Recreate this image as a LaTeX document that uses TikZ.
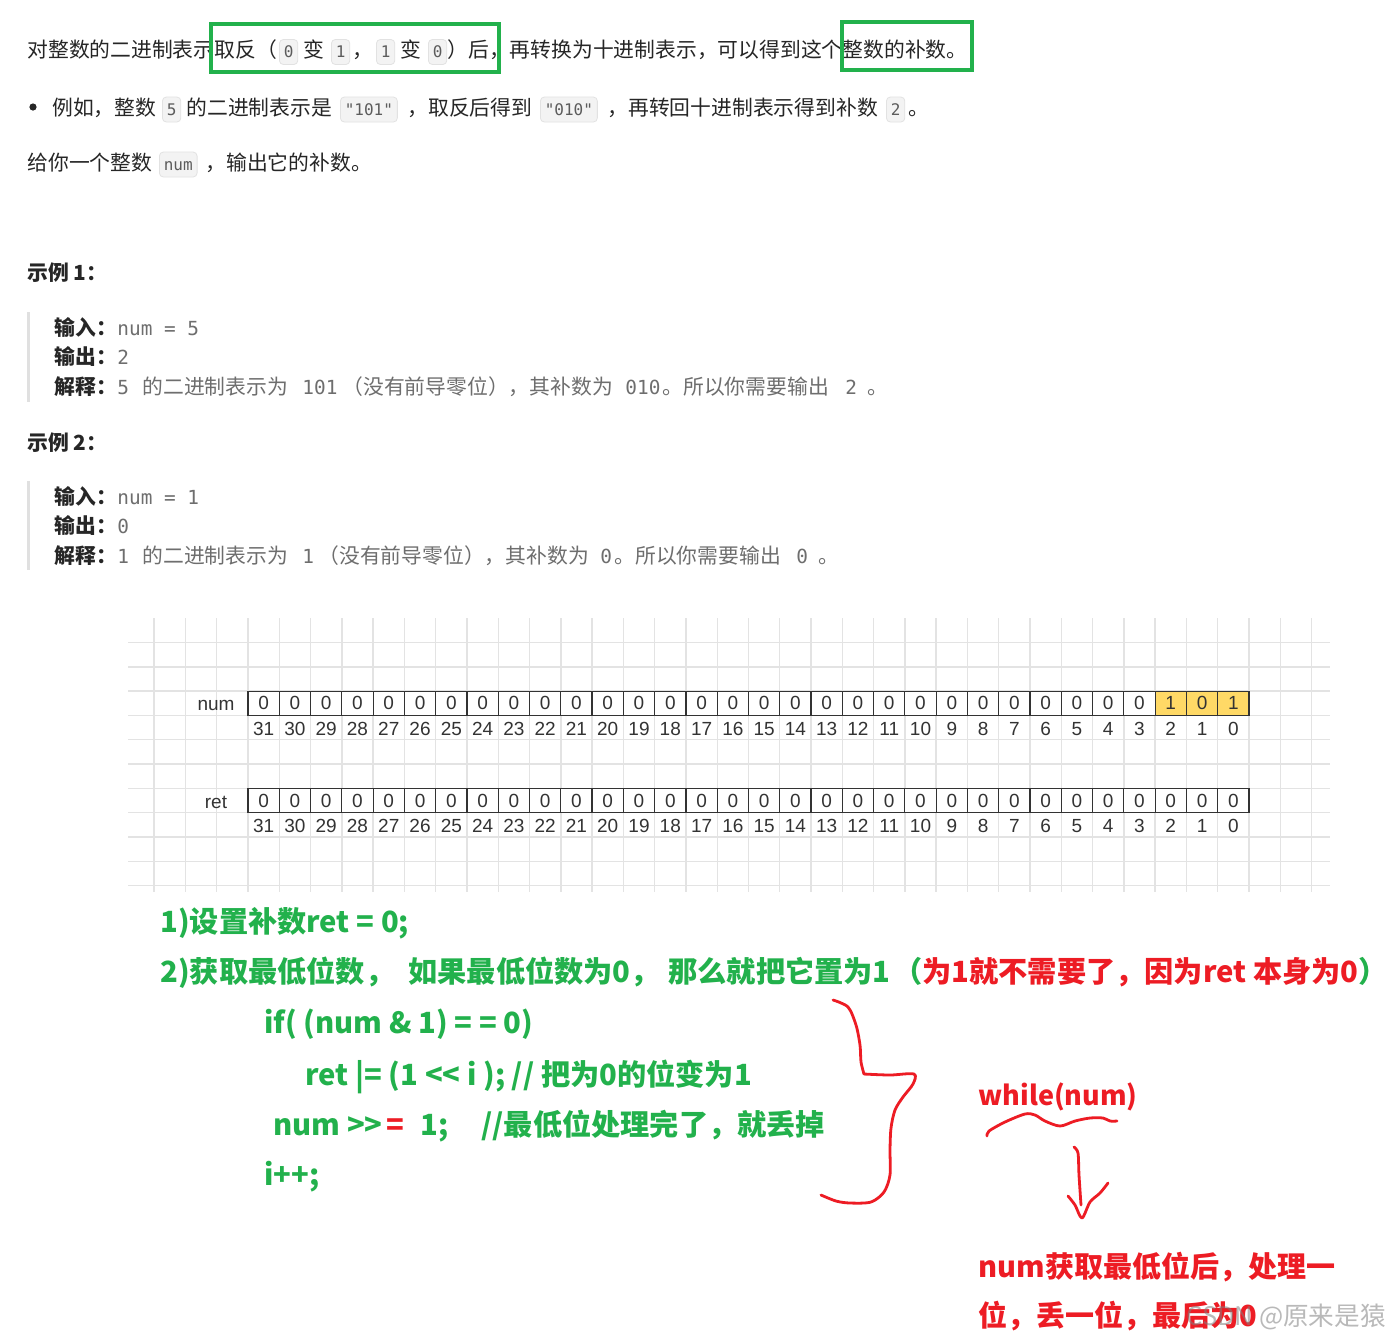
\documentclass[tikz,border=0pt]{standalone}
\usepackage{fontspec}
\setmainfont{Noto Sans CJK SC}
\newfontfamily\monof{DejaVu Sans Mono}
\newfontfamily\cellf{Liberation Sans}
\definecolor{bodytext}{HTML}{262626}
\definecolor{codebg}{HTML}{F3F3F3}
\definecolor{codeborder}{HTML}{E2E2E2}
\definecolor{codetext}{HTML}{5C5C5C}
\definecolor{exgray}{HTML}{6E6E6E}
\definecolor{barc}{HTML}{E0E0E0}
\definecolor{pgreen}{HTML}{22B14C}
\definecolor{pred}{HTML}{ED1C24}
\definecolor{gridc}{HTML}{E3E3E3}
\definecolor{cellyellow}{HTML}{FFD966}
\definecolor{celltext}{HTML}{333333}
\newcommand\fbody{\fontsize{10.4pt}{12pt}\selectfont}
\newcommand\fcode{\monof\fontsize{8pt}{9pt}\selectfont}
\newcommand\fexmono{\monof\fontsize{9.7pt}{11pt}\selectfont}
\newcommand\fgreen{\bfseries\fontsize{14.6pt}{17pt}\selectfont}
\newcommand\fred{\bfseries\fontsize{14.5pt}{17pt}\selectfont}
\newcommand\fwhile{\bfseries\fontsize{13.5pt}{16pt}\selectfont}
\newcommand\fcell{\cellf\fontsize{9.5pt}{10pt}\selectfont}
\tikzset{
  txt/.style={anchor=base west, inner sep=0pt, text=bodytext, font=\fbody},
  code/.style={anchor=base west, draw=codeborder, fill=codebg, rounded corners=2pt, text=codetext, font=\fcode, inner xsep=2.2pt, inner ysep=0pt, text height=9pt, text depth=3.5pt, line width=0.4pt},
  exlab/.style={txt, font=\fbody\bfseries},
  exc/.style={txt, text=exgray},
  exm/.style={anchor=base west, inner sep=0pt, text=exgray, font=\fexmono},
  gbox/.style={draw=pgreen, line width=2pt},
  gridline/.style={draw=gridc, line width=0.7pt},
  cellbox/.style={draw=celltext, line width=0.6pt, minimum width=15.64pt, minimum height=12.15pt, inner sep=0pt, text=celltext, font=\fcell},
  idx/.style={inner sep=0pt, text=celltext, font=\fcell},
  gtxt/.style={anchor=base west, inner sep=0pt, text=pgreen, font=\fgreen},
  rtxt/.style={anchor=base west, inner sep=0pt, text=pred, font=\fred},
  redpen/.style={draw=pred, line width=1.4pt, line cap=round, line join=round},
}
\begin{document}
\begin{tikzpicture}[x=0.5pt,y=-0.5pt]
\useasboundingbox[fill=white] (0,0) rectangle (1397,1341);

% ---- line 1
\node[txt] (t1a) at (27,57.5) {对整数的二进制表示取反（};
\node[code] (t1b) at (279,57.5) {0};
\node[txt] (t1c) at (303,57.5) {变};
\node[code] (t1d) at (331,57.5) {1};
\node[txt] (t1e) at (352,57.5) {，};
\node[code] (t1f) at (376,57.5) {1};
\node[txt] (t1g) at (400,57.5) {变};
\node[code] (t1h) at (428,57.5) {0};
\node[txt] (t1i) at (447,57.5) {）后，再转换为十进制表示，可以得到这个整数的补数。};
\draw[gbox] (211,24) rectangle (499,72);
\draw[gbox] (842,22) rectangle (972,70);

% ---- line 2
\fill[bodytext] (33,107) circle (3.6);
\node[txt] (t2a) at (52,115) {例如，整数};
\node[code] (t2b) at (162,115) {5};
\node[txt] (t2c) at (186,115) {的二进制表示是};
\node[code] (t2d) at (340,115) {"101"};
\node[txt] (t2e) at (407,115) {，取反后得到};
\node[code] (t2f) at (540,115) {"010"};
\node[txt] (t2g) at (607,115) {，再转回十进制表示得到补数};
\node[code] (t2h) at (886,115) {2};
\node[txt] (t2i) at (908,115) {。};

% ---- line 3
\node[txt] (t3a) at (27,170) {给你一个整数};
\node[code] (t3b) at (159,170) {num};
\node[txt] (t3c) at (205,170) {，输出它的补数。};

% ---- example 1
\node[exlab] (h1) at (27,280) {示例 1：};
\fill[barc] (27,312) rectangle (30,402);
\node[exlab] (e1a) at (54,335) {输入：};
\node[exm] (e1b) at (117,335) {num = 5};
\node[exlab] (e1c) at (54,364) {输出：};
\node[exm] (e1d) at (117,364) {2};
\node[exlab] (e1e) at (54,394) {解释：};
\node[exm] (e1f) at (117,394) {5};
\node[exc] (e1g) at (142,394) {的二进制表示为};
\node[exm] (e1h) at (302,394) {101};
\node[exc] (e1i) at (342,394) {（没有前导零位），其补数为};
\node[exm] (e1j) at (625,394) {010};
\node[exc] (e1k) at (662,394) {。所以你需要输出};
\node[exm] (e1l) at (845,394) {2};
\node[exc] (e1m) at (867,394) {。};

% ---- example 2
\node[exlab] (h2) at (27,450) {示例 2：};
\fill[barc] (27,481) rectangle (30,570);
\node[exlab] (e2a) at (54,504) {输入：};
\node[exm] (e2b) at (117,504) {num = 1};
\node[exlab] (e2c) at (54,533) {输出：};
\node[exm] (e2d) at (117,533) {0};
\node[exlab] (e2e) at (54,563) {解释：};
\node[exm] (e2f) at (117,563) {1};
\node[exc] (e2g) at (142,563) {的二进制表示为};
\node[exm] (e2h) at (302,563) {1};
\node[exc] (e2i) at (318,563) {（没有前导零位），其补数为};
\node[exm] (e2j) at (600,563) {0};
\node[exc] (e2k) at (614,563) {。所以你需要输出};
\node[exm] (e2l) at (796,563) {0};
\node[exc] (e2m) at (818,563) {。};

% ---- grid
\foreach \k in {-3,...,34} \draw[gridline] ({248+\k*31.28},618) -- ({248+\k*31.28},892);
\foreach \j in {0,...,10} \draw[gridline] (128,{642.5+\j*24.3}) -- (1330,{642.5+\j*24.3});

\node[idx] (numlab) at (216,705) {num};
\node[idx] (retlab) at (216,802) {ret};
\foreach \i in {0,...,31} {
  \pgfmathsetmacro\xc{248+(\i+0.5)*31.28}
  \pgfmathtruncatemacro\bit{31-\i}
  \ifnum\bit=0 \def\v{1}\def\fc{cellyellow}\else
  \ifnum\bit=1 \def\v{0}\def\fc{cellyellow}\else
  \ifnum\bit=2 \def\v{1}\def\fc{cellyellow}\else
  \def\v{0}\def\fc{white}\fi\fi\fi
  \node[cellbox, fill=\fc] (n\bit) at (\xc,703.25) {\v};
  \node[idx] (ni\bit) at (\xc,729) {\bit};
  \node[cellbox, fill=white] (r\bit) at (\xc,800.45) {0};
  \node[idx] (ri\bit) at (\xc,826) {\bit};
}

% ---- green notes
\node[gtxt] (g1) at (160,932) {1)设置补数ret = 0;};
\node[gtxt] (g2a) at (160,982) {2)获取最低位数，};
\node[gtxt] (g2b) at (408,982) {如果最低位数为0，};
\node[gtxt] (g2c) at (668,982) {那么就把它置为1};
\node[gtxt] (g2d) at (893,982) {（{\color{pred}为1就不需要了，因为ret 本身为0}）};
\node[gtxt] (g3) at (264,1033) {if( (num \& 1) = = 0)};
\node[gtxt] (g4) at (305,1085) {ret |= (1 <{}< i ); // 把为0的位变为1};
\node[gtxt] (g5a) at (273,1135) {num >{}>};
\node[gtxt, text=pred] (g5b) at (386,1135) {=};
\node[gtxt] (g5c) at (420,1135) {1;};
\node[gtxt] (g5d) at (481,1135) {//最低位处理完了，就丢掉};
\node[gtxt] (g6) at (264,1185) {i+{}+;};

% ---- red hand annotations
\draw[redpen] plot[smooth, tension=0.5] coordinates {(833,1000) (848,1007) (856,1025) (860,1045) (861,1062) (864,1074)};
\draw[redpen] plot[smooth, tension=0.5] coordinates {(864,1074) (890,1075) (914,1074) (913,1084) (903,1097) (895,1110) (891,1128) (890,1150) (890,1175) (884,1192) (871,1202) (850,1203) (836,1201) (821,1195)};
\node[rtxt, font=\fwhile] (w1) at (978,1105) {while(num)};
\draw[redpen] plot[smooth, tension=0.5] coordinates {(987,1136) (989,1131) (1005,1122) (1025,1114) (1035,1115) (1045,1121) (1060,1126) (1075,1121) (1090,1118) (1103,1118) (1110,1121) (1117,1121)};
\draw[redpen] plot[smooth, tension=0.5] coordinates {(1074,1147) (1078,1153) (1079,1175) (1081,1205)};
\draw[redpen] plot[smooth, tension=0.5] coordinates {(1068,1196) (1075,1205) (1082,1218) (1090,1202) (1100,1193) (1108,1183)};
\node[rtxt] (w2) at (978,1277) {num获取最低位后，处理一};
\node[rtxt] (w3) at (978,1326) {位，丢一位，最后为0};
\node[anchor=base west, inner sep=0pt, text=gray, opacity=0.55, font=\fontsize{12.8pt}{15pt}\selectfont] (wm) at (1186,1325) {CSDN @原来是猿};
\end{tikzpicture}
\end{document}
